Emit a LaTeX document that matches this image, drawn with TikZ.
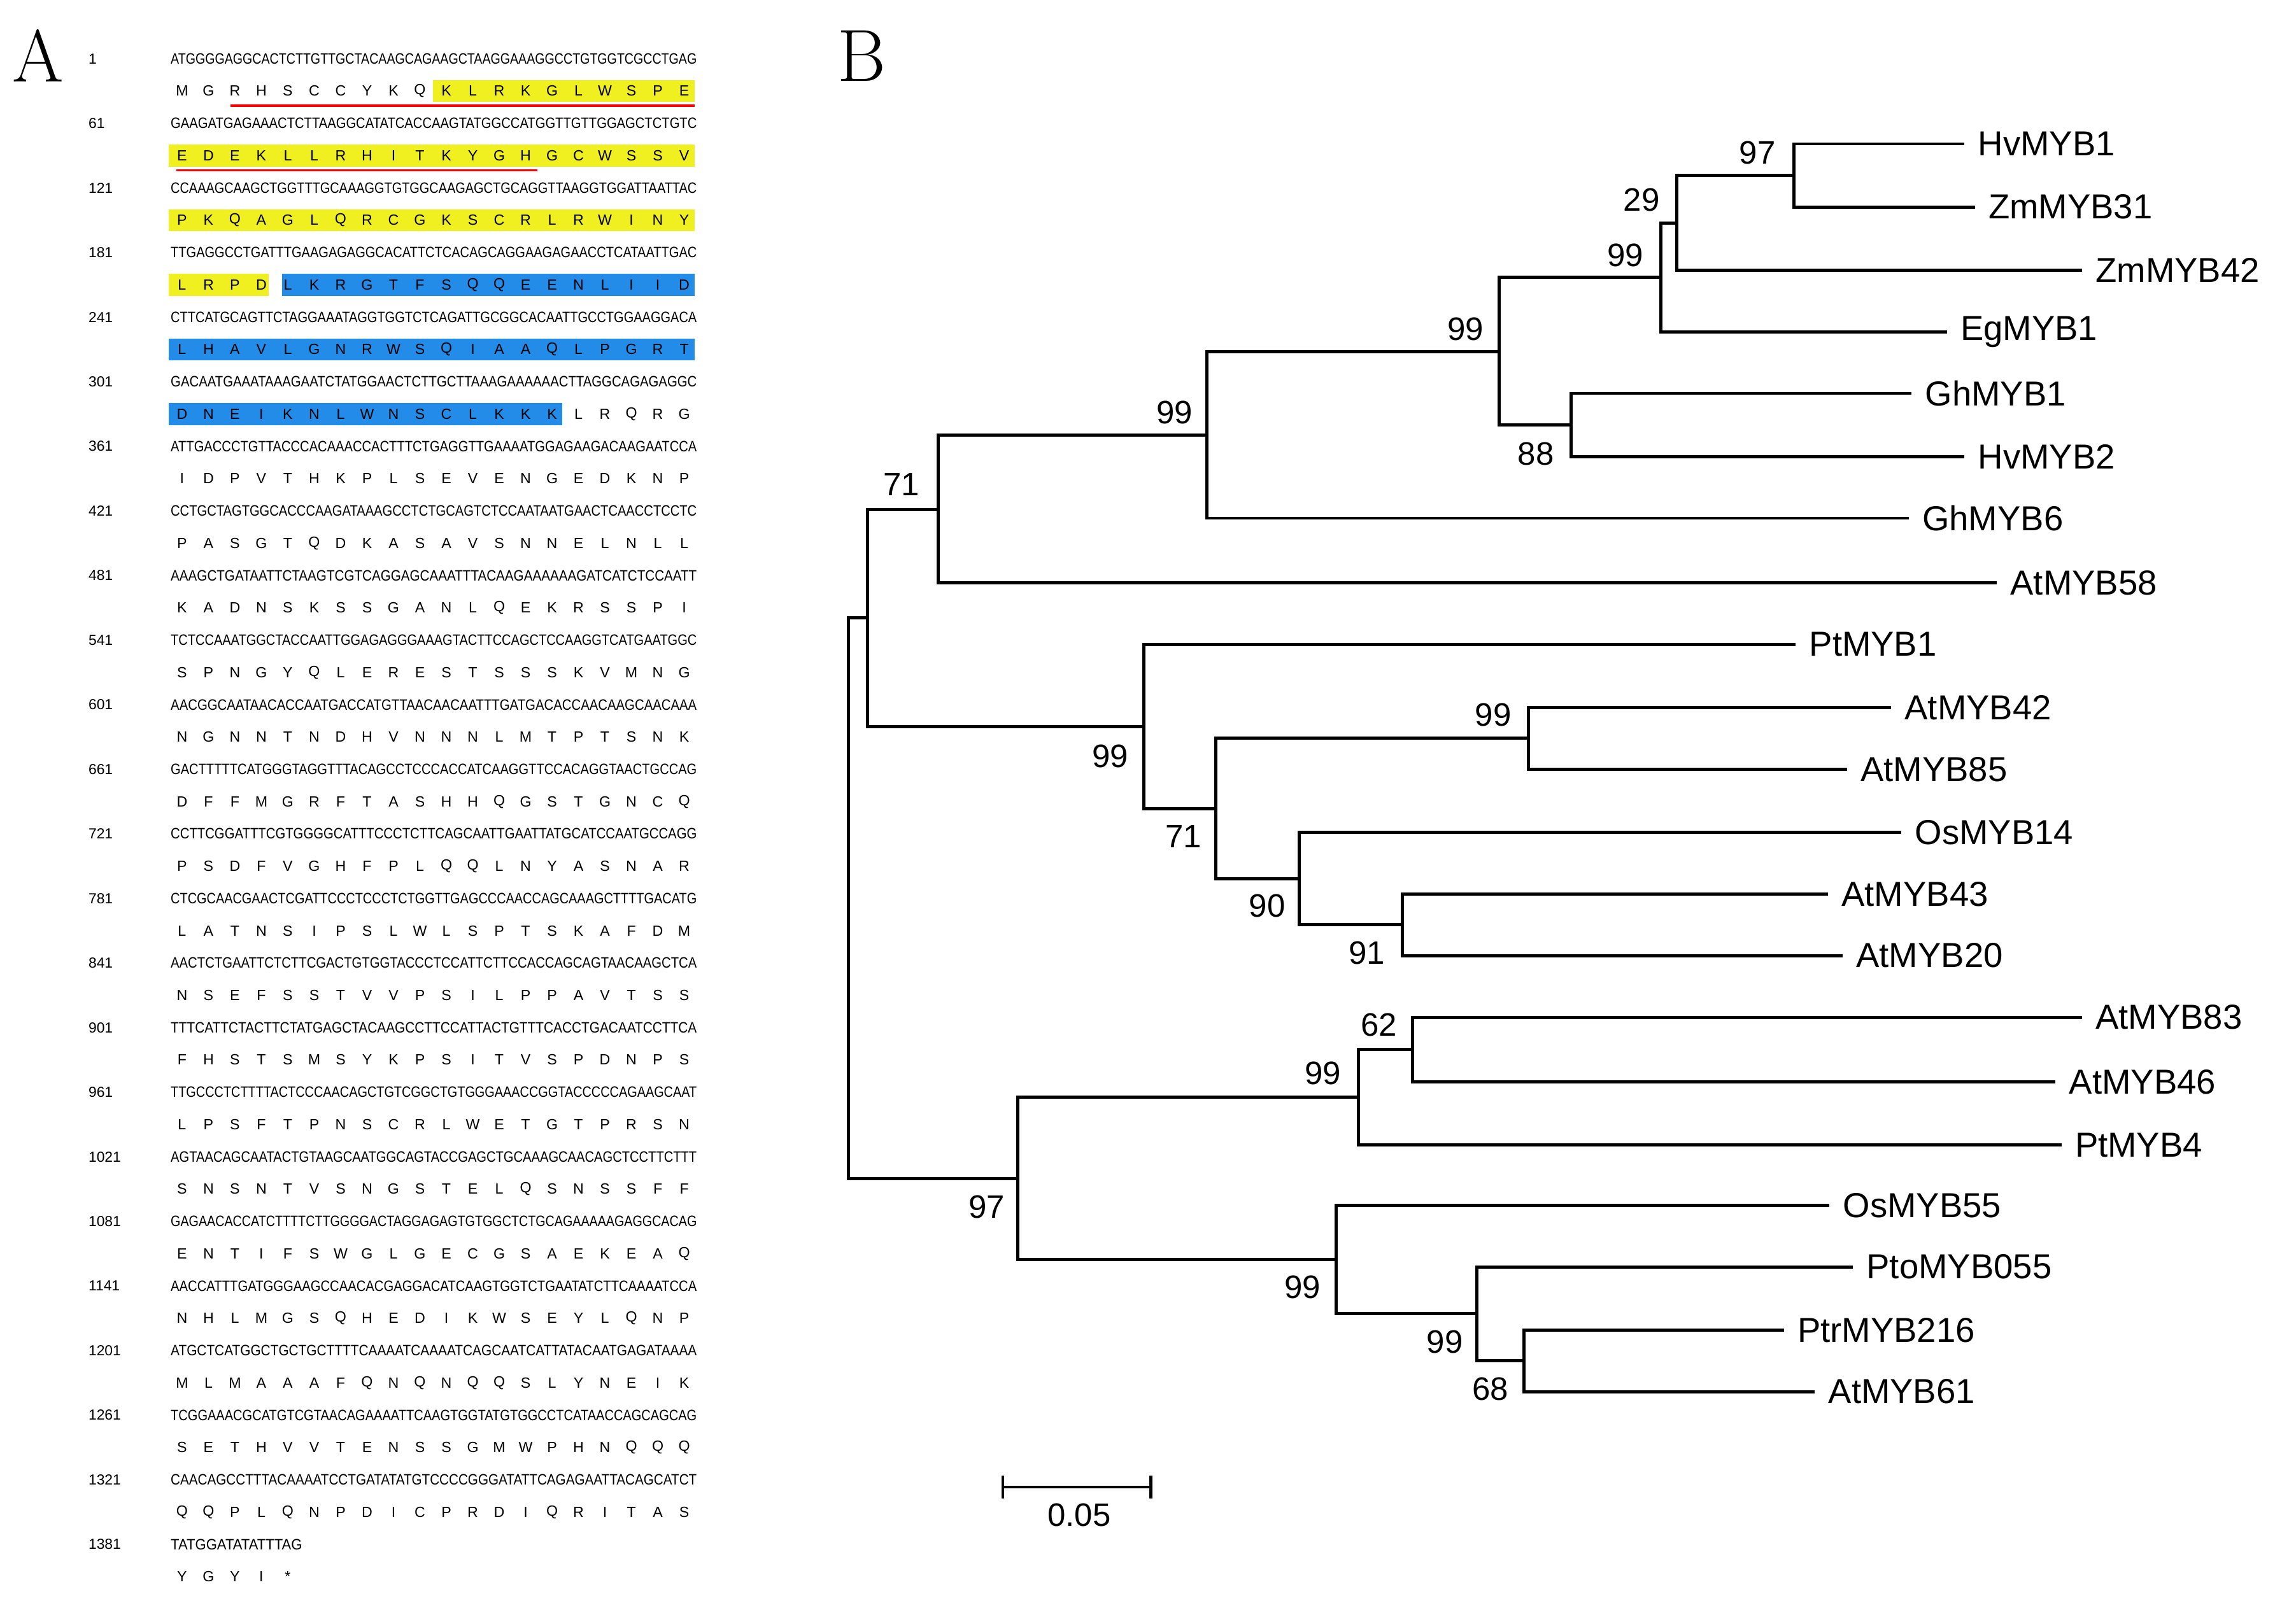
\documentclass[tikz,border=0pt]{standalone}
\usepackage{fontspec}
\usepackage{graphicx}
\newfontfamily\arial{Liberation Sans}
\definecolor{hly}{RGB}{240,240,32}
\definecolor{hlb}{RGB}{34,140,232}
\begin{document}
\begin{tikzpicture}[x=0.02306cm,y=-0.02306cm,
  br/.style={line width=1.4pt},
  leaf/.style={anchor=west,inner sep=0pt,font=\arial\fontsize{15.5}{17}\selectfont},
  bs/.style={inner sep=0pt,font=\arial\fontsize{14.5}{16}\selectfont},
  num/.style={anchor=west,inner sep=0pt,font=\arial\fontsize{6.5}{7}\selectfont},
  aa/.style={inner sep=0pt,font=\arial\fontsize{6.6}{7}\selectfont}]
\useasboundingbox (0,0) rectangle (1563.75,1090.2);
\newcommand\dnarow[4]{%
  \node[num] (n#1) at (60,#2) {#1};
  \node[anchor=west,inner sep=0pt] (d#1) at (116,#2) {\resizebox{#4pt}{4.7pt}{\arial #3}};}
\newcommand\prot[2]{%
  \foreach \c [count=\i] in {#2} \node[aa] (p#1-\i) at ({124+(\i-1)*18},#1) {\c};}
% highlights
\fill[hly] (295,54.5) rectangle (473,69.5);
\fill[hly] (115,98.5) rectangle (473,113.5);
\fill[hly] (115,142.5) rectangle (473,157.5);
\fill[hly] (115,186.5) rectangle (183,201.5);
\fill[hlb] (192,186.5) rectangle (473,201.5);
\fill[hlb] (115,230.5) rectangle (473,245.5);
\fill[hlb] (115,274.5) rectangle (383,289.5);
\draw[red,line width=1.1pt] (157,72) -- (473,72);
\draw[red,line width=1.1pt] (120,116) -- (366,116);
\node[anchor=west,inner sep=0pt,font=\fontsize{33}{36}\selectfont] (lblA) at (8,38) {A};
\node[anchor=west,inner sep=0pt,font=\fontsize{33}{36}\selectfont] (lblB) at (570,38) {B};
% sequences
\dnarow{1}{40}{ATGGGGAGGCACTCTTGTTGCTACAAGCAGAAGCTAAGGAAAGGCCTGTGGTCGCCTGAG}{235}
\prot{62}{M,G,R,H,S,C,C,Y,K,Q,K,L,R,K,G,L,W,S,P,E}
\dnarow{61}{84}{GAAGATGAGAAACTCTTAAGGCATATCACCAAGTATGGCCATGGTTGTTGGAGCTCTGTC}{235}
\prot{106}{E,D,E,K,L,L,R,H,I,T,K,Y,G,H,G,C,W,S,S,V}
\dnarow{121}{128}{CCAAAGCAAGCTGGTTTGCAAAGGTGTGGCAAGAGCTGCAGGTTAAGGTGGATTAATTAC}{235}
\prot{150}{P,K,Q,A,G,L,Q,R,C,G,K,S,C,R,L,R,W,I,N,Y}
\dnarow{181}{172}{TTGAGGCCTGATTTGAAGAGAGGCACATTCTCACAGCAGGAAGAGAACCTCATAATTGAC}{235}
\prot{194}{L,R,P,D,L,K,R,G,T,F,S,Q,Q,E,E,N,L,I,I,D}
\dnarow{241}{216}{CTTCATGCAGTTCTAGGAAATAGGTGGTCTCAGATTGCGGCACAATTGCCTGGAAGGACA}{235}
\prot{238}{L,H,A,V,L,G,N,R,W,S,Q,I,A,A,Q,L,P,G,R,T}
\dnarow{301}{260}{GACAATGAAATAAAGAATCTATGGAACTCTTGCTTAAAGAAAAAACTTAGGCAGAGAGGC}{235}
\prot{282}{D,N,E,I,K,N,L,W,N,S,C,L,K,K,K,L,R,Q,R,G}
\dnarow{361}{304}{ATTGACCCTGTTACCCACAAACCACTTTCTGAGGTTGAAAATGGAGAAGACAAGAATCCA}{235}
\prot{326}{I,D,P,V,T,H,K,P,L,S,E,V,E,N,G,E,D,K,N,P}
\dnarow{421}{348}{CCTGCTAGTGGCACCCAAGATAAAGCCTCTGCAGTCTCCAATAATGAACTCAACCTCCTC}{235}
\prot{370}{P,A,S,G,T,Q,D,K,A,S,A,V,S,N,N,E,L,N,L,L}
\dnarow{481}{392}{AAAGCTGATAATTCTAAGTCGTCAGGAGCAAATTTACAAGAAAAAAGATCATCTCCAATT}{235}
\prot{414}{K,A,D,N,S,K,S,S,G,A,N,L,Q,E,K,R,S,S,P,I}
\dnarow{541}{436}{TCTCCAAATGGCTACCAATTGGAGAGGGAAAGTACTTCCAGCTCCAAGGTCATGAATGGC}{235}
\prot{458}{S,P,N,G,Y,Q,L,E,R,E,S,T,S,S,S,K,V,M,N,G}
\dnarow{601}{480}{AACGGCAATAACACCAATGACCATGTTAACAACAATTTGATGACACCAACAAGCAACAAA}{235}
\prot{502}{N,G,N,N,T,N,D,H,V,N,N,N,L,M,T,P,T,S,N,K}
\dnarow{661}{524}{GACTTTTTCATGGGTAGGTTTACAGCCTCCCACCATCAAGGTTCCACAGGTAACTGCCAG}{235}
\prot{546}{D,F,F,M,G,R,F,T,A,S,H,H,Q,G,S,T,G,N,C,Q}
\dnarow{721}{568}{CCTTCGGATTTCGTGGGGCATTTCCCTCTTCAGCAATTGAATTATGCATCCAATGCCAGG}{235}
\prot{590}{P,S,D,F,V,G,H,F,P,L,Q,Q,L,N,Y,A,S,N,A,R}
\dnarow{781}{612}{CTCGCAACGAACTCGATTCCCTCCCTCTGGTTGAGCCCAACCAGCAAAGCTTTTGACATG}{235}
\prot{634}{L,A,T,N,S,I,P,S,L,W,L,S,P,T,S,K,A,F,D,M}
\dnarow{841}{656}{AACTCTGAATTCTCTTCGACTGTGGTACCCTCCATTCTTCCACCAGCAGTAACAAGCTCA}{235}
\prot{678}{N,S,E,F,S,S,T,V,V,P,S,I,L,P,P,A,V,T,S,S}
\dnarow{901}{700}{TTTCATTCTACTTCTATGAGCTACAAGCCTTCCATTACTGTTTCACCTGACAATCCTTCA}{235}
\prot{722}{F,H,S,T,S,M,S,Y,K,P,S,I,T,V,S,P,D,N,P,S}
\dnarow{961}{744}{TTGCCCTCTTTTACTCCCAACAGCTGTCGGCTGTGGGAAACCGGTACCCCCAGAAGCAAT}{235}
\prot{766}{L,P,S,F,T,P,N,S,C,R,L,W,E,T,G,T,P,R,S,N}
\dnarow{1021}{788}{AGTAACAGCAATACTGTAAGCAATGGCAGTACCGAGCTGCAAAGCAACAGCTCCTTCTTT}{235}
\prot{810}{S,N,S,N,T,V,S,N,G,S,T,E,L,Q,S,N,S,S,F,F}
\dnarow{1081}{832}{GAGAACACCATCTTTTCTTGGGGACTAGGAGAGTGTGGCTCTGCAGAAAAAGAGGCACAG}{235}
\prot{854}{E,N,T,I,F,S,W,G,L,G,E,C,G,S,A,E,K,E,A,Q}
\dnarow{1141}{876}{AACCATTTGATGGGAAGCCAACACGAGGACATCAAGTGGTCTGAATATCTTCAAAATCCA}{235}
\prot{898}{N,H,L,M,G,S,Q,H,E,D,I,K,W,S,E,Y,L,Q,N,P}
\dnarow{1201}{920}{ATGCTCATGGCTGCTGCTTTTCAAAATCAAAATCAGCAATCATTATACAATGAGATAAAA}{235}
\prot{942}{M,L,M,A,A,A,F,Q,N,Q,N,Q,Q,S,L,Y,N,E,I,K}
\dnarow{1261}{964}{TCGGAAACGCATGTCGTAACAGAAAATTCAAGTGGTATGTGGCCTCATAACCAGCAGCAG}{235}
\prot{986}{S,E,T,H,V,V,T,E,N,S,S,G,M,W,P,H,N,Q,Q,Q}
\dnarow{1321}{1008}{CAACAGCCTTTACAAAATCCTGATATATGTCCCCGGGATATTCAGAGAATTACAGCATCT}{235}
\prot{1030}{Q,Q,P,L,Q,N,P,D,I,C,P,R,D,I,Q,R,I,T,A,S}
\dnarow{1381}{1052}{TATGGATATATTTAG}{58.7}
\prot{1074}{Y,G,Y,I,*}
% ---------- tree ----------
\newcommand\leaf[3]{% name, tip x, y
  \coordinate (t#1) at (#2,#3);
  \node[leaf] (#1) at (#2+9,#3) {#1};}
\leaf{HvMYB1}{1338}{98}
\leaf{ZmMYB31}{1345}{141}
\leaf{ZmMYB42}{1418}{184}
\leaf{EgMYB1}{1326}{226}
\leaf{GhMYB1}{1302}{268}
\leaf{HvMYB2}{1338}{311}
\leaf{GhMYB6}{1300}{353}
\leaf{AtMYB58}{1360}{397}
\leaf{PtMYB1}{1223}{439}
\leaf{AtMYB42}{1288}{482}
\leaf{AtMYB85}{1258}{524}
\leaf{OsMYB14}{1295}{567}
\leaf{AtMYB43}{1245}{609}
\leaf{AtMYB20}{1255}{651}
\leaf{AtMYB83}{1418}{693}
\leaf{AtMYB46}{1400}{737}
\leaf{PtMYB4}{1404}{780}
\leaf{OsMYB55}{1246}{821}
\leaf{PtoMYB055}{1262}{863}
\leaf{PtrMYB216}{1215}{906}
\leaf{AtMYB61}{1236}{948}
\coordinate (i97) at (1222,119.5);
\coordinate (i29) at (1142,152);
\coordinate (i99a) at (1131,189);
\coordinate (i88) at (1070,289.5);
\coordinate (i99b) at (1021,239.5);
\coordinate (i99c) at (822,296.5);
\coordinate (i71) at (639,347);
\coordinate (i99d) at (1041,503);
\coordinate (i91) at (955,630);
\coordinate (i90) at (885,598.5);
\coordinate (i71b) at (828,550.75);
\coordinate (i99e) at (779,495);
\coordinate (iA) at (591,421);
\coordinate (i62) at (962,715);
\coordinate (i99f) at (925,747.5);
\coordinate (i68) at (1038,927);
\coordinate (i99g) at (1006,895);
\coordinate (i99h) at (910,858);
\coordinate (i97b) at (693,802.75);
\coordinate (root) at (578,612);
\draw[br] (i97) |- (tHvMYB1) (i97) |- (tZmMYB31);
\draw[br] (i29) |- (i97) (i29) |- (tZmMYB42);
\draw[br] (i99a) |- (i29) (i99a) |- (tEgMYB1);
\draw[br] (i88) |- (tGhMYB1) (i88) |- (tHvMYB2);
\draw[br] (i99b) |- (i99a) (i99b) |- (i88);
\draw[br] (i99c) |- (i99b) (i99c) |- (tGhMYB6);
\draw[br] (i71) |- (i99c) (i71) |- (tAtMYB58);
\draw[br] (i99d) |- (tAtMYB42) (i99d) |- (tAtMYB85);
\draw[br] (i91) |- (tAtMYB43) (i91) |- (tAtMYB20);
\draw[br] (i90) |- (tOsMYB14) (i90) |- (i91);
\draw[br] (i71b) |- (i99d) (i71b) |- (i90);
\draw[br] (i99e) |- (tPtMYB1) (i99e) |- (i71b);
\draw[br] (iA) |- (i71) (iA) |- (i99e);
\draw[br] (i62) |- (tAtMYB83) (i62) |- (tAtMYB46);
\draw[br] (i99f) |- (i62) (i99f) |- (tPtMYB4);
\draw[br] (i68) |- (tPtrMYB216) (i68) |- (tAtMYB61);
\draw[br] (i99g) |- (tPtoMYB055) (i99g) |- (i68);
\draw[br] (i99h) |- (tOsMYB55) (i99h) |- (i99g);
\draw[br] (i97b) |- (i99f) (i97b) |- (i99h);
\draw[br] (root) |- (iA) (root) |- (i97b);
% bootstrap values
\node[bs] (b1) at (1197,104) {97};
\node[bs] (b2) at (1118,136) {29};
\node[bs] (b3) at (1107,174) {99};
\node[bs] (b4) at (998,224) {99};
\node[bs] (b5) at (1046,309) {88};
\node[bs] (b6) at (800,281) {99};
\node[bs] (b7) at (614,330) {71};
\node[bs] (b8) at (1017,487) {99};
\node[bs] (b9) at (931,649) {91};
\node[bs] (b10) at (863,617) {90};
\node[bs] (b11) at (806,570) {71};
\node[bs] (b12) at (756,515) {99};
\node[bs] (b13) at (939,698) {62};
\node[bs] (b14) at (901,731) {99};
\node[bs] (b15) at (1015,946) {68};
\node[bs] (b16) at (984,914) {99};
\node[bs] (b17) at (887,877) {99};
\node[bs] (b18) at (672,822) {97};
% scale bar
\coordinate (s1) at (683,1013);
\coordinate (s2) at (784,1013);
\draw[br] (s1) -- (s2);
\draw[br] ([yshift=0.18cm]s1) -- ([yshift=-0.18cm]s1);
\draw[br] ([yshift=0.18cm]s2) -- ([yshift=-0.18cm]s2);
\node[bs] (sc) at (735,1032) {0.05};
\end{tikzpicture}
\end{document}
